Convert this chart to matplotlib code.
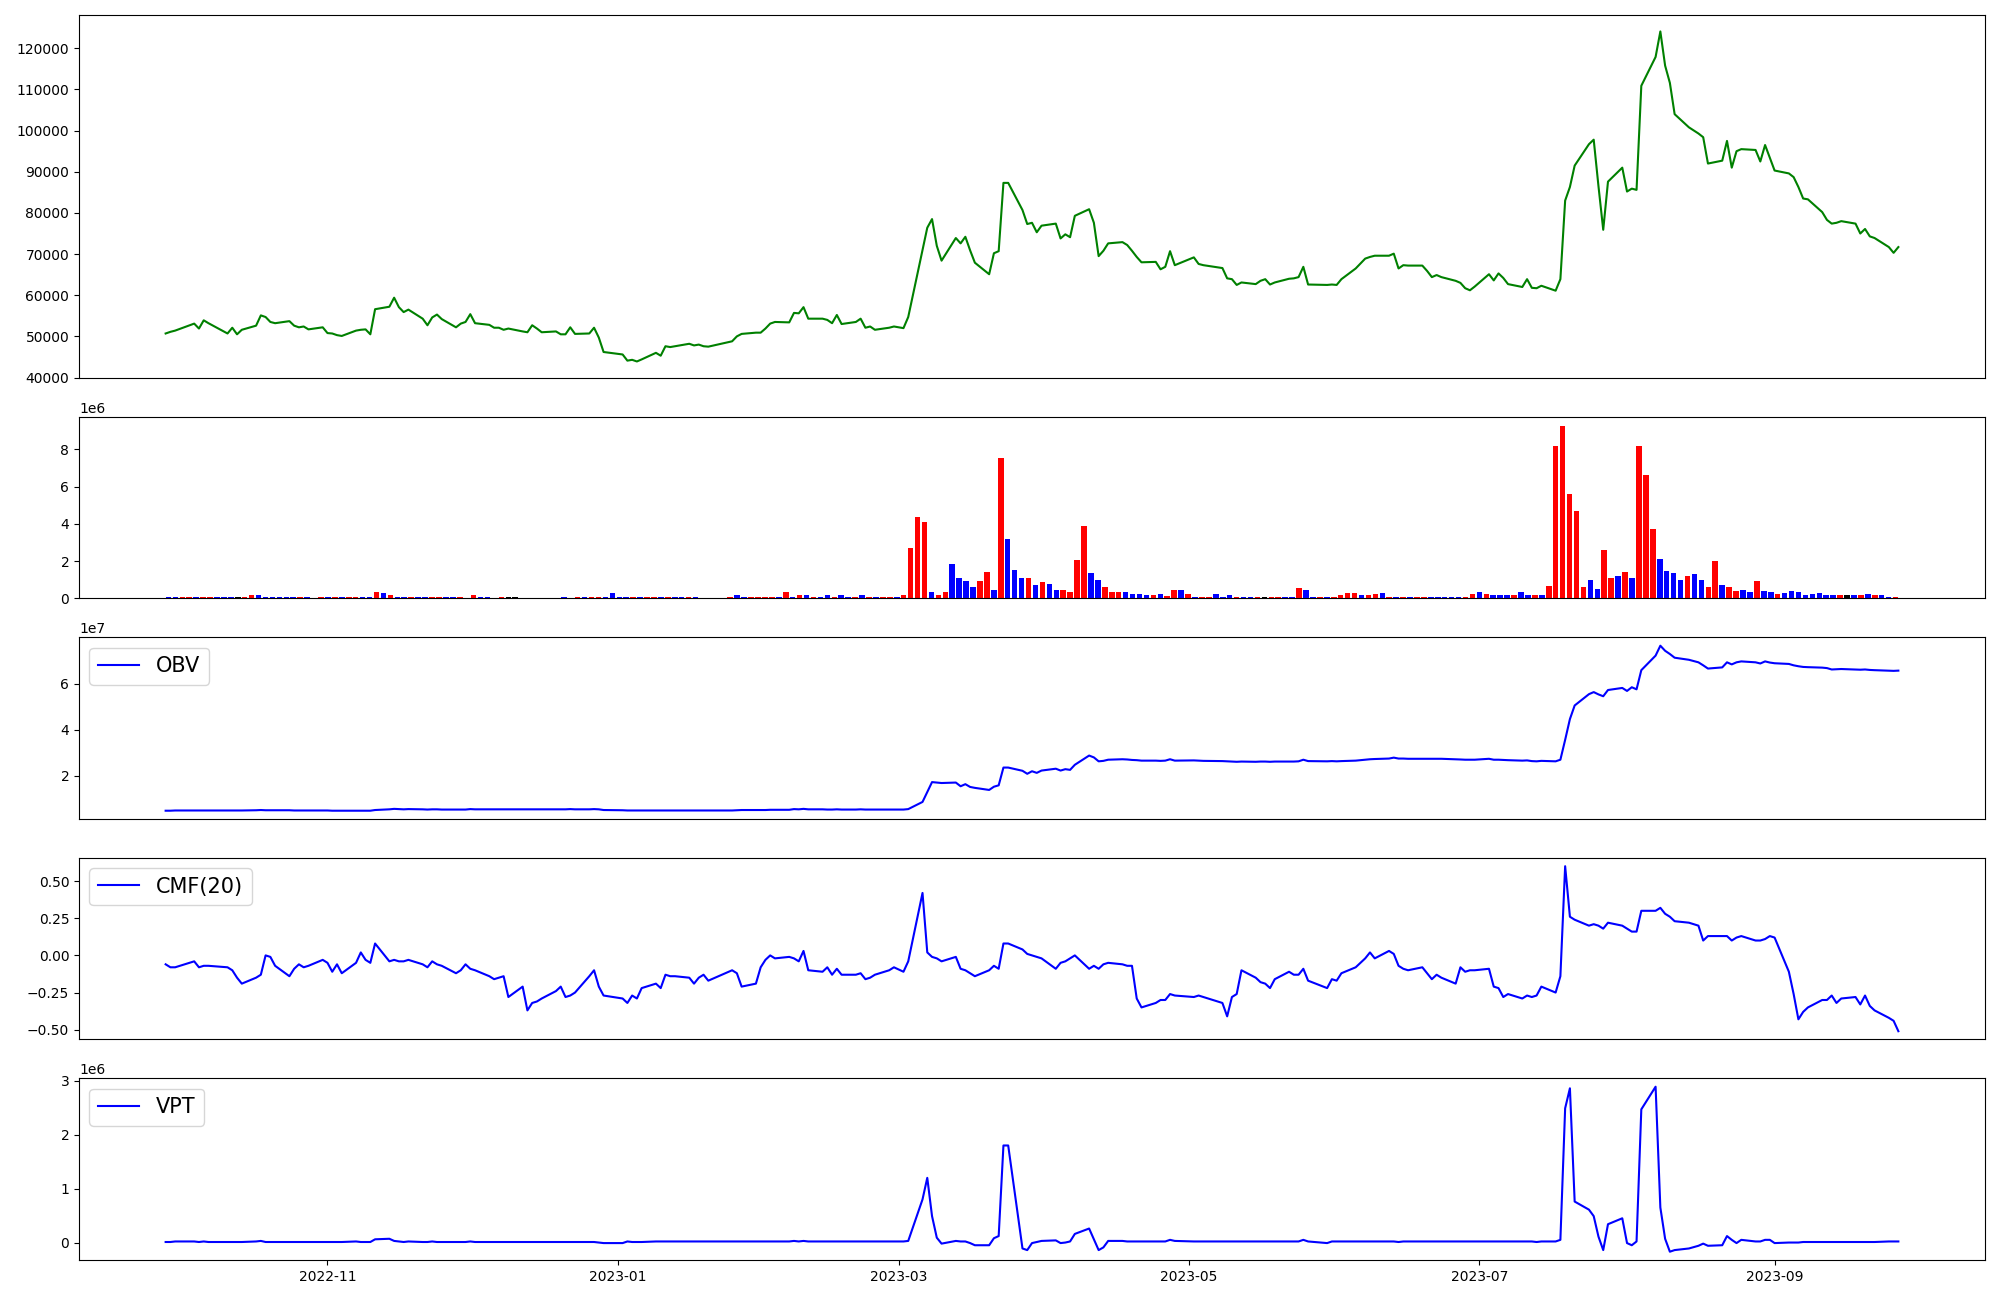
import numpy as np
import pandas as pd
import matplotlib
matplotlib.use('Agg')
import matplotlib.pyplot as plt

# KRX trading days, 2022-09-28 .. 2023-09-27
holidays = ['2022-10-03', '2022-10-10', '2022-12-30', '2023-01-23', '2023-01-24',
            '2023-03-01', '2023-05-01', '2023-05-05', '2023-05-29', '2023-06-06',
            '2023-08-15']
dates = pd.bdate_range('2022-09-28', '2023-09-27')
dates = dates[~dates.isin(pd.to_datetime(holidays))]

# closing price
close = [
    50700, 51100, 51400, 53100, 51900, 53900, 53200, 50700, 52100, 50500,
    51600, 52600, 55100, 54700, 53500, 53200, 53700, 52600, 52200, 52400,
    51700, 52200, 50800, 50700, 50300, 50100, 51400, 51600, 51700, 50500,
    56600, 57200, 59400, 57100, 55900, 56500, 54300, 52700, 54600, 55300,
    54200, 52200, 53100, 53500, 55400, 53200, 52800, 52100, 52100, 51600,
    51900, 51200, 51000, 52700, 51900, 51000, 51200, 50500, 50500, 52200,
    50600, 50700, 52100, 49700, 46200, 45600, 44100, 44300, 43900, 44400,
    46000, 45300, 47600, 47400, 47600, 48200, 47800, 48000, 47600, 47500,
    48800, 50000, 50600, 50900, 50900, 51900, 53100, 53500, 53400, 55700,
    55600, 57100, 54300, 54300, 54000, 53200, 55200, 53000, 53500, 54300,
    52100, 52400, 51600, 52100, 52400, 52000, 54700, 70900, 76400, 78500,
    72000, 68400, 73900, 72600, 74200, 70900, 67900, 65100, 70200, 70700,
    87300, 87300, 80700, 77300, 77600, 75300, 76900, 77400, 73800, 74800,
    74100, 79300, 80900, 77600, 69500, 70800, 72600, 72900, 72200, 70800,
    69300, 68000, 68100, 66300, 66900, 70700, 67300, 69200, 67600, 67300,
    66600, 64100, 63900, 62500, 63100, 62700, 63500, 63900, 62600, 63100,
    64000, 64100, 64400, 66900, 62600, 62500, 62600, 62500, 63900, 66500,
    68900, 69300, 69600, 69600, 70100, 66500, 67300, 67200, 67200, 65900,
    64400, 64900, 64400, 63500, 63000, 61700, 61200, 62100, 65100, 63600,
    65300, 64200, 62700, 62000, 63900, 61800, 61700, 62300, 61100, 63900,
    83000, 86300, 91500, 96700, 97800, 86500, 75900, 87600, 91000, 85200,
    85900, 85600, 110900, 117900, 124100, 115800, 111600, 104000, 100800, 99300,
    98400, 92000, 92700, 97500, 91000, 95000, 95500, 95300, 92500, 96500,
    93400, 90300, 89600, 88700, 86300, 83500, 83300, 80200, 78300, 77400,
    77600, 78000, 77400, 75000, 76100, 74300, 73900, 71700, 70300, 71700,
]

# volume, millions of shares
volume_m = [
    0.10, 0.06, 0.06, 0.06, 0.06, 0.06, 0.06, 0.06, 0.06, 0.06,
    0.06, 0.06, 0.16, 0.16, 0.06, 0.06, 0.06, 0.06, 0.06, 0.06,
    0.06, 0.02, 0.06, 0.10, 0.06, 0.06, 0.10, 0.06, 0.06, 0.06,
    0.32, 0.27, 0.21, 0.10, 0.06, 0.10, 0.10, 0.06, 0.06, 0.06,
    0.06, 0.10, 0.06, 0.02, 0.16, 0.06, 0.06, 0.02, 0.06, 0.06,
    0.06, 0.02, 0.02, 0.02, 0.02, 0.02, 0.02, 0.06, 0.02, 0.06,
    0.06, 0.06, 0.06, 0.06, 0.27, 0.06, 0.10, 0.06, 0.06, 0.06,
    0.06, 0.06, 0.06, 0.06, 0.06, 0.06, 0.06, 0.02, 0.02, 0.02,
    0.02, 0.06, 0.16, 0.06, 0.06, 0.06, 0.06, 0.06, 0.06, 0.32,
    0.10, 0.21, 0.21, 0.10, 0.10, 0.16, 0.10, 0.16, 0.10, 0.10,
    0.16, 0.06, 0.06, 0.06, 0.06, 0.10, 0.21, 2.71, 4.38, 4.10,
    0.37, 0.21, 0.37, 1.83, 1.10, 0.96, 0.63, 0.96, 1.40, 0.46,
    7.54, 3.17, 1.50, 1.08, 1.10, 0.71, 0.90, 0.75, 0.48, 0.48,
    0.37, 2.04, 3.90, 1.35, 0.98, 0.60, 0.33, 0.33, 0.33, 0.23,
    0.23, 0.17, 0.17, 0.23, 0.12, 0.48, 0.44, 0.23, 0.10, 0.10,
    0.10, 0.23, 0.06, 0.17, 0.10, 0.10, 0.10, 0.06, 0.06, 0.06,
    0.06, 0.10, 0.10, 0.54, 0.44, 0.10, 0.10, 0.06, 0.06, 0.17,
    0.27, 0.27, 0.17, 0.17, 0.23, 0.27, 0.10, 0.06, 0.06, 0.10,
    0.06, 0.06, 0.06, 0.06, 0.10, 0.06, 0.10, 0.06, 0.23, 0.33,
    0.23, 0.17, 0.17, 0.17, 0.17, 0.37, 0.17, 0.17, 0.17, 0.67,
    8.20, 9.27, 5.60, 4.70, 0.60, 1.00, 0.50, 2.60, 1.10, 1.20,
    1.40, 1.10, 8.20, 6.60, 3.70, 2.10, 1.45, 1.35, 1.00, 1.20,
    1.33, 1.00, 0.63, 2.00, 0.73, 0.63, 0.42, 0.46, 0.35, 0.96,
    0.42, 0.35, 0.25, 0.31, 0.42, 0.35, 0.21, 0.25, 0.31, 0.21,
    0.17, 0.17, 0.17, 0.17, 0.21, 0.25, 0.17, 0.21, 0.08, 0.08,
]

# candle direction: 1 = close above open, -1 = below, 0 = unchanged
candle = [
    -1, -1, 1, 1, -1, 1, 1, -1, -1, -1,
    0, 1, 1, -1, -1, -1, -1, -1, -1, 1,
    -1, -1, 1, -1, 1, -1, 1, 1, -1, -1,
    1, -1, 1, -1, -1, 1, -1, -1, 1, 1,
    -1, -1, 1, -1, 1, -1, -1, -1, 1, 0,
    0, -1, -1, 1, -1, -1, -1, -1, -1, 1,
    -1, 1, 1, -1, -1, -1, -1, 1, -1, 1,
    1, -1, 1, -1, -1, 1, -1, 1, -1, -1,
    1, 1, -1, -1, 1, 1, 1, 1, -1, 1,
    -1, 1, -1, 1, -1, -1, 1, -1, -1, 1,
    -1, 1, -1, 1, 1, -1, 1, 1, 1, 1,
    -1, 1, 1, -1, -1, -1, -1, 1, 1, -1,
    1, -1, -1, -1, 1, -1, 1, -1, -1, 1,
    1, 1, 1, -1, -1, 1, 1, 1, -1, -1,
    -1, -1, 1, -1, 1, 1, -1, 1, -1, 1,
    1, -1, -1, -1, 1, -1, -1, 1, 0, 1,
    1, -1, -1, 1, -1, -1, 1, -1, 1, 1,
    1, 1, -1, 1, 1, -1, 1, -1, 1, -1,
    1, 1, -1, -1, -1, -1, -1, 1, 1, -1,
    1, -1, -1, -1, 1, -1, -1, 1, -1, 1,
    1, 1, 1, 1, 1, -1, -1, 1, 1, -1,
    1, -1, 1, 1, 1, -1, -1, -1, -1, 1,
    -1, -1, 1, 1, -1, 1, 1, -1, -1, 1,
    -1, -1, 1, -1, -1, -1, -1, -1, -1, -1,
    -1, 1, 0, -1, 1, -1, 1, -1, -1, 1,
]

# on-balance volume, x1e7
obv_1e7 = [
    0.49, 0.49, 0.50, 0.50, 0.50, 0.50, 0.50, 0.50, 0.50, 0.50,
    0.50, 0.51, 0.52, 0.51, 0.51, 0.51, 0.51, 0.50, 0.50, 0.50,
    0.50, 0.50, 0.50, 0.49, 0.49, 0.49, 0.49, 0.49, 0.49, 0.49,
    0.52, 0.55, 0.57, 0.56, 0.55, 0.56, 0.55, 0.54, 0.55, 0.55,
    0.54, 0.54, 0.54, 0.54, 0.56, 0.55, 0.55, 0.55, 0.55, 0.55,
    0.55, 0.55, 0.55, 0.55, 0.55, 0.55, 0.55, 0.55, 0.55, 0.56,
    0.55, 0.55, 0.56, 0.55, 0.52, 0.51, 0.50, 0.50, 0.50, 0.50,
    0.50, 0.50, 0.50, 0.50, 0.50, 0.50, 0.50, 0.50, 0.50, 0.50,
    0.50, 0.51, 0.52, 0.52, 0.52, 0.52, 0.53, 0.53, 0.53, 0.56,
    0.55, 0.57, 0.55, 0.55, 0.54, 0.54, 0.55, 0.54, 0.54, 0.55,
    0.54, 0.54, 0.54, 0.54, 0.54, 0.54, 0.56, 0.87, 1.30, 1.73,
    1.71, 1.69, 1.71, 1.55, 1.64, 1.52, 1.48, 1.39, 1.53, 1.59,
    2.36, 2.36, 2.22, 2.09, 2.20, 2.13, 2.23, 2.31, 2.23, 2.29,
    2.26, 2.48, 2.88, 2.80, 2.63, 2.65, 2.70, 2.72, 2.71, 2.69,
    2.68, 2.66, 2.66, 2.65, 2.66, 2.72, 2.66, 2.67, 2.66, 2.65,
    2.64, 2.63, 2.62, 2.61, 2.62, 2.61, 2.62, 2.62, 2.61, 2.62,
    2.62, 2.62, 2.63, 2.70, 2.64, 2.63, 2.64, 2.63, 2.64, 2.66,
    2.70, 2.72, 2.73, 2.75, 2.79, 2.75, 2.75, 2.74, 2.74, 2.74,
    2.74, 2.74, 2.74, 2.72, 2.71, 2.70, 2.70, 2.70, 2.74, 2.70,
    2.70, 2.69, 2.68, 2.66, 2.67, 2.64, 2.63, 2.65, 2.63, 2.70,
    3.56, 4.46, 5.05, 5.54, 5.63, 5.53, 5.45, 5.72, 5.81, 5.68,
    5.84, 5.75, 6.58, 7.21, 7.64, 7.42, 7.28, 7.12, 7.03, 6.92,
    6.79, 6.65, 6.70, 6.92, 6.83, 6.92, 6.96, 6.92, 6.87, 6.96,
    6.91, 6.88, 6.85, 6.79, 6.75, 6.72, 6.71, 6.69, 6.67, 6.61,
    6.62, 6.63, 6.61, 6.60, 6.61, 6.59, 6.58, 6.56, 6.55, 6.56,
]

# Chaikin money flow, 20 days
cmf20 = [
    -0.06, -0.08, -0.08, -0.04, -0.08, -0.07, -0.07, -0.08, -0.10, -0.15,
    -0.19, -0.15, -0.13, 0.00, -0.01, -0.07, -0.14, -0.09, -0.06, -0.08,
    -0.07, -0.03, -0.05, -0.11, -0.06, -0.12, -0.05, 0.02, -0.03, -0.05,
    0.08, -0.04, -0.03, -0.04, -0.04, -0.03, -0.06, -0.08, -0.04, -0.06,
    -0.07, -0.12, -0.10, -0.06, -0.09, -0.10, -0.14, -0.16, -0.15, -0.14,
    -0.28, -0.21, -0.37, -0.32, -0.31, -0.29, -0.24, -0.21, -0.28, -0.27,
    -0.25, -0.14, -0.10, -0.21, -0.27, -0.29, -0.32, -0.27, -0.29, -0.22,
    -0.19, -0.22, -0.13, -0.14, -0.14, -0.15, -0.19, -0.15, -0.13, -0.17,
    -0.10, -0.12, -0.21, -0.19, -0.08, -0.03, 0.00, -0.02, -0.01, -0.02,
    -0.04, 0.03, -0.10, -0.11, -0.08, -0.13, -0.09, -0.13, -0.13, -0.12,
    -0.16, -0.15, -0.13, -0.10, -0.08, -0.11, -0.04, 0.42, 0.02, -0.01,
    -0.02, -0.04, -0.01, -0.09, -0.10, -0.12, -0.14, -0.10, -0.07, -0.09,
    0.08, 0.08, 0.04, 0.01, 0.00, -0.01, -0.02, -0.09, -0.05, -0.04,
    -0.02, 0.00, -0.09, -0.07, -0.09, -0.06, -0.05, -0.06, -0.07, -0.07,
    -0.29, -0.35, -0.32, -0.30, -0.30, -0.26, -0.27, -0.28, -0.27, -0.28,
    -0.32, -0.41, -0.28, -0.26, -0.10, -0.15, -0.18, -0.19, -0.22, -0.16,
    -0.11, -0.13, -0.13, -0.09, -0.17, -0.22, -0.16, -0.17, -0.12, -0.08,
    -0.02, 0.02, -0.02, 0.03, 0.01, -0.07, -0.09, -0.10, -0.08, -0.12,
    -0.16, -0.13, -0.15, -0.19, -0.08, -0.11, -0.10, -0.10, -0.09, -0.21,
    -0.22, -0.28, -0.26, -0.29, -0.27, -0.28, -0.27, -0.21, -0.25, -0.14,
    0.60, 0.26, 0.24, 0.20, 0.21, 0.20, 0.18, 0.22, 0.20, 0.18,
    0.16, 0.16, 0.30, 0.30, 0.32, 0.28, 0.26, 0.23, 0.22, 0.20,
    0.10, 0.13, 0.13, 0.13, 0.10, 0.12, 0.13, 0.10, 0.10, 0.11,
    0.13, 0.12, -0.11, -0.26, -0.43, -0.38, -0.35, -0.30, -0.30, -0.27,
    -0.32, -0.29, -0.28, -0.33, -0.27, -0.34, -0.37, -0.42, -0.44, -0.51,
]

# volume price trend, x1e6
vpt_1e6 = [
    0.01, 0.01, 0.02, 0.02, 0.01, 0.02, 0.01, 0.01, 0.01, 0.01,
    0.01, 0.02, 0.03, 0.01, 0.01, 0.01, 0.01, 0.01, 0.01, 0.01,
    0.01, 0.01, 0.01, 0.01, 0.01, 0.01, 0.02, 0.01, 0.01, 0.01,
    0.06, 0.07, 0.03, 0.02, 0.01, 0.02, 0.01, 0.01, 0.02, 0.01,
    0.01, 0.01, 0.01, 0.01, 0.02, 0.01, 0.01, 0.01, 0.01, 0.01,
    0.01, 0.01, 0.01, 0.01, 0.01, 0.01, 0.01, 0.01, 0.01, 0.01,
    0.01, 0.01, 0.01, 0.00, -0.01, -0.01, 0.02, 0.01, 0.01, 0.01,
    0.02, 0.02, 0.02, 0.02, 0.02, 0.02, 0.02, 0.02, 0.02, 0.02,
    0.02, 0.02, 0.02, 0.02, 0.02, 0.02, 0.02, 0.02, 0.02, 0.03,
    0.02, 0.03, 0.02, 0.02, 0.02, 0.02, 0.02, 0.02, 0.02, 0.02,
    0.02, 0.02, 0.02, 0.02, 0.02, 0.02, 0.03, 0.80, 1.20, 0.49,
    0.09, -0.02, 0.03, 0.02, 0.02, -0.01, -0.05, -0.05, 0.08, 0.12,
    1.80, 1.80, -0.11, -0.14, -0.01, 0.01, 0.03, 0.04, -0.01, 0.00,
    0.02, 0.16, 0.26, 0.06, -0.14, -0.09, 0.03, 0.03, 0.02, 0.02,
    0.02, 0.02, 0.02, 0.02, 0.02, 0.05, 0.03, 0.02, 0.02, 0.02,
    0.02, 0.02, 0.02, 0.02, 0.02, 0.02, 0.02, 0.02, 0.02, 0.02,
    0.02, 0.02, 0.02, 0.05, 0.02, -0.01, 0.02, 0.02, 0.02, 0.02,
    0.02, 0.02, 0.02, 0.02, 0.02, 0.01, 0.02, 0.02, 0.02, 0.02,
    0.02, 0.02, 0.02, 0.02, 0.02, 0.02, 0.02, 0.02, 0.02, 0.02,
    0.02, 0.02, 0.02, 0.02, 0.02, 0.02, 0.01, 0.02, 0.02, 0.05,
    2.49, 2.86, 0.76, 0.61, 0.49, 0.11, -0.14, 0.34, 0.45, -0.01,
    -0.05, 0.02, 2.47, 2.89, 0.65, 0.07, -0.17, -0.14, -0.11, -0.06,
    -0.02, -0.06, -0.05, 0.12, 0.05, -0.01, 0.05, 0.02, 0.02, 0.05,
    0.05, -0.01, 0.00, 0.00, 0.00, 0.01, 0.01, 0.01, 0.01, 0.01,
    0.01, 0.01, 0.01, 0.01, 0.01, 0.01, 0.01, 0.02, 0.02, 0.02,
]

volume = np.array(volume_m) * 1e6
obv = np.array(obv_1e7) * 1e7
vpt = np.array(vpt_1e6) * 1e6
bar_colors = ['red' if c > 0 else ('blue' if c < 0 else 'black') for c in candle]

fig = plt.figure(figsize=(20, 13), dpi=100)
gs = fig.add_gridspec(5, 1, height_ratios=[2, 1, 1, 1, 1],
                      left=0.0395, right=0.9925, top=0.9885, bottom=0.0308,
                      hspace=0.179)

# price
ax1 = fig.add_subplot(gs[0])
ax1.plot(dates, close, color='green')
ax1.set_xticks([])

# volume bars
ax2 = fig.add_subplot(gs[1])
ax2.bar(np.arange(len(volume)), volume, color=bar_colors)
ax2.set_xticks([])

# OBV
ax3 = fig.add_subplot(gs[2])
ax3.plot(dates, obv, color='blue', label='OBV')
ax3.legend(loc='upper left', fontsize=15)
ax3.set_xticks([])

# CMF
ax4 = fig.add_subplot(gs[3])
ax4.plot(dates, cmf20, color='blue', label='CMF(20)')
ax4.legend(loc='upper left', fontsize=15)
ax4.set_xticks([])

# VPT
ax5 = fig.add_subplot(gs[4])
ax5.plot(dates, vpt, color='blue', label='VPT')
ax5.legend(loc='upper left', fontsize=15)

fig.savefig('out.png', dpi=100)
